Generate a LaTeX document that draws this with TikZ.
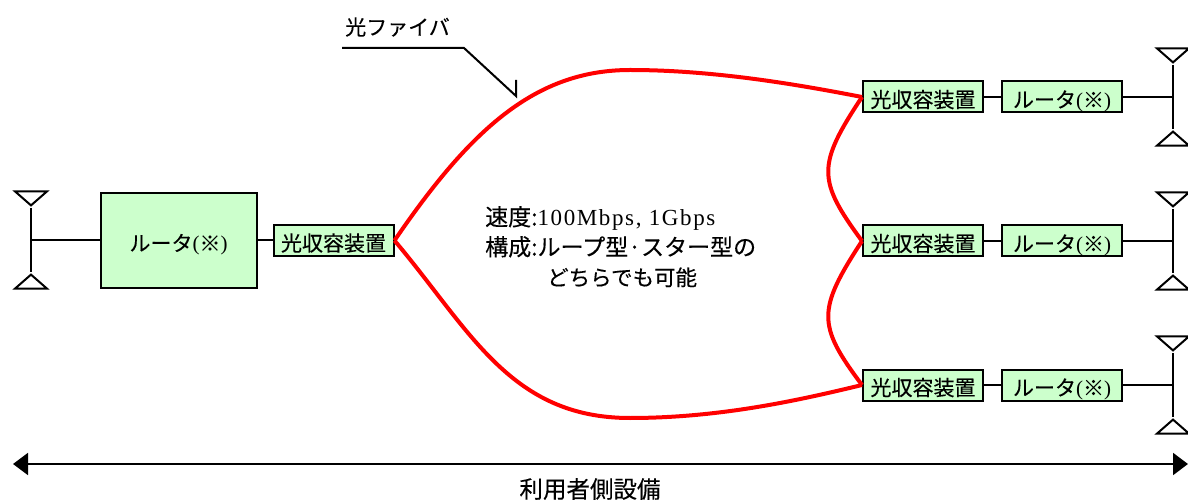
\documentclass[tikz,border=0pt]{standalone}
\usepackage{fontspec}
\setmainfont{Noto Sans CJK JP}[FakeBold=0.25]
\newfontfamily\latinfont{Liberation Serif}
\usepackage{xcolor}
\usetikzlibrary{shapes.geometric, arrows.meta, positioning}
\definecolor{boxgreen}{HTML}{CCFFCC}

\begin{document}
\begin{tikzpicture}[
    x=1pt, y=-1pt,
    every node/.style={font=\fontsize{21}{30}\selectfont},
    olt/.style={rectangle, draw=black, fill=boxgreen, line width=2pt, minimum width=120pt, minimum height=31pt, inner sep=0pt, text height=21pt, text depth=0pt},
    router/.style={olt},
    bigrouter/.style={olt, minimum width=156pt, minimum height=95pt},
    antdown/.style={isosceles triangle, isosceles triangle stretches, shape border rotate=-90, draw=black, line width=2pt, minimum width=32pt, minimum height=14pt, inner sep=0pt},
    antup/.style={antdown, shape border rotate=90},
    link/.style={draw=black, line width=2pt},
    fiber/.style={draw=red, line width=4pt},
    span/.style={{Triangle[length=15pt,width=22pt]}-{Triangle[length=15pt,width=22pt]}, line width=2pt}
]
\useasboundingbox (0,0) rectangle (1188,502);

% left side
\node[bigrouter] (rleft) at (178.5,240.5) {ルータ{\latinfont(}※{\latinfont)}};
\node[olt, right=15pt of rleft] (oleft) {光収容装置};
\node[antdown, anchor=apex] (tleft) at (31,208) {};
\node[antup, anchor=apex] (bleft) at (31,272) {};
\coordinate (jleft) at (31,240.5);

% right side
\node[olt] (oa) at (923,97) {光収容装置};
\node[router, right=17pt of oa] (ra) {ルータ{\latinfont(}※{\latinfont)}};
\node[olt] (ob) at (923,241) {光収容装置};
\node[router, right=17pt of ob] (rb) {ルータ{\latinfont(}※{\latinfont)}};
\node[olt] (oc) at (923,385) {光収容装置};
\node[router, right=17pt of oc] (rc) {ルータ{\latinfont(}※{\latinfont)}};

\node[antdown, anchor=apex] (ta) at (1173,65) {};
\node[antup, anchor=apex] (ba) at (1173,129) {};
\node[antdown, anchor=apex] (tb) at (1173,209) {};
\node[antup, anchor=apex] (bb) at (1173,273) {};
\node[antdown, anchor=apex] (tc) at (1173,353) {};
\node[antup, anchor=apex] (bc) at (1173,417) {};
\coordinate (ja) at (1173,97);
\coordinate (jb) at (1173,241);
\coordinate (jc) at (1173,385);

% links
\draw[link] (tleft.apex) -- (bleft.apex);
\draw[link] (jleft) -- (rleft);
\draw[link] (rleft) -- (oleft);
\draw[link] (oa) -- (ra);
\draw[link] (ob) -- (rb);
\draw[link] (oc) -- (rc);
\draw[link] (ra) -- (ja);
\draw[link] (rb) -- (jb);
\draw[link] (rc) -- (jc);
\draw[link] (ta.apex) -- (ba.apex);
\draw[link] (tb.apex) -- (bb.apex);
\draw[link] (tc.apex) -- (bc.apex);

% fiber
\draw[fiber] (oleft.east) .. controls (470,130) and (535,70) .. (630,70) .. controls (715,70) and (800,85) .. (oa.west);
\draw[fiber] (oleft.east) .. controls (470,330) and (510,418) .. (630,418) .. controls (720,418) and (800,400) .. (oc.west);
\draw[fiber] (oa.west) .. controls (817,165) and (817,180) .. (ob.west);
\draw[fiber] (ob.west) .. controls (817,310) and (817,325) .. (oc.west);

% fiber label
\node[anchor=west, inner sep=0pt] (flabel) at (345,27) {光ファイバ};
\coordinate (fa) at (342,48);
\coordinate (fb) at (464,48);
\coordinate (fc) at (516,96);
\coordinate (fd) at (516,80);
\draw[link] (fa) -- (fb) -- (fc) -- (fd);

% spec text
\node[anchor=north west, inner sep=0pt, align=left, font=\fontsize{23}{30}\selectfont] (spec) at (485,206) {速度:{\latinfont\addfontfeature{LetterSpace=7}100Mbps, 1Gbps}\\構成:ループ型·スター型の\\\hspace*{62pt}{\fontsize{21.5}{30}\selectfont どちらでも可能}};

% bottom span
\coordinate (sl) at (13,464);
\coordinate (sr) at (1188,464);
\draw[span] (sl) -- (sr);
\node[inner sep=0pt, font=\fontsize{23.5}{30}\selectfont] (slabel) at (590,489) {利用者側設備};
\end{tikzpicture}
\end{document}
